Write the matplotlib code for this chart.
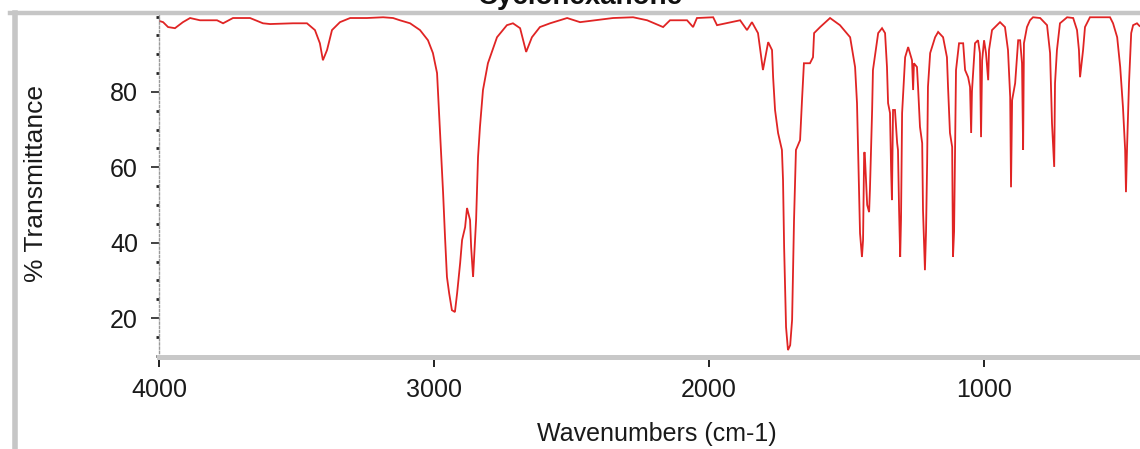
import matplotlib
matplotlib.use('Agg')
import matplotlib.pyplot as plt
from matplotlib.ticker import MultipleLocator, FixedLocator
from matplotlib.lines import Line2D

plt.rcParams['font.family'] = ['Liberation Sans', 'DejaVu Sans']

# ---- data ----
wavenumbers = [
    3998, 3985, 3967, 3942, 3913, 3887, 3851, 3789, 3767, 3731, 3669, 3622, 3596,
    3513, 3462, 3433, 3415, 3404, 3389, 3371, 3342, 3305, 3244, 3185, 3149, 3124,
    3087, 3051, 3022, 3004, 2989, 2978, 2967, 2960, 2953, 2945, 2935, 2924, 2916,
    2905, 2898, 2887, 2880, 2869, 2865, 2858, 2847, 2840, 2833, 2822, 2804, 2771,
    2735, 2713, 2687, 2665, 2644, 2615, 2578, 2516, 2469, 2349, 2276, 2225, 2167,
    2142, 2080, 2058, 2044, 1985, 1971, 1887, 1862, 1844, 1822, 1804, 1785, 1771,
    1767, 1760, 1749, 1735, 1731, 1727, 1720, 1713, 1705, 1698, 1691, 1684, 1669,
    1662, 1655, 1633, 1622, 1618, 1596, 1560, 1524, 1487, 1469, 1462, 1458, 1451,
    1444, 1440, 1436, 1434, 1425, 1418, 1415, 1407, 1404, 1385, 1371, 1360, 1353,
    1349, 1342, 1338, 1335, 1331, 1324, 1316, 1313, 1309, 1305, 1302, 1298, 1287,
    1276, 1262, 1258, 1255, 1244, 1240, 1233, 1225, 1222, 1215, 1211, 1207, 1204,
    1196, 1178, 1167, 1149, 1135, 1131, 1124, 1116, 1113, 1109, 1102, 1091, 1076,
    1069, 1058, 1051, 1047, 1044, 1033, 1022, 1015, 1011, 1007, 1000, 993, 985,
    982, 971, 942, 924, 913, 905, 902, 898, 887, 876, 869, 862, 858, 855, 844,
    833, 822, 796, 771, 760, 753, 745, 742, 735, 724, 698, 676, 662, 655, 651,
    640, 633, 615, 542, 531, 516, 505, 495, 487, 484, 480, 473, 465, 458, 444, 435,
]
transmittance = [
    98.8, 98.5, 97.2, 96.9, 98.5, 99.6, 99.0, 99.0, 98.2, 99.6, 99.6, 98.2, 98.0,
    98.2, 98.2, 96.4, 92.9, 88.4, 91.1, 96.4, 98.5, 99.6, 99.6, 99.8, 99.6, 99.0,
    98.2, 96.4, 93.7, 90.3, 85.0, 69.1, 53.2, 41.5, 30.9, 26.6, 22.1, 21.6, 26.6,
    34.6, 40.7, 44.1, 49.2, 46.0, 38.8, 30.9, 46.0, 62.7, 70.7, 80.5, 87.6, 94.5,
    97.7, 98.2, 96.9, 90.6, 94.5, 97.2, 98.2, 99.6, 98.5, 99.6, 99.8, 99.0, 97.2,
    99.0, 99.0, 97.2, 99.6, 99.8, 97.7, 99.0, 96.4, 98.5, 95.6, 85.8, 93.2, 91.1,
    83.9, 75.2, 69.1, 64.6, 56.6, 38.8, 17.6, 11.5, 12.8, 19.5, 46.0, 64.6, 67.2,
    77.8, 87.6, 87.6, 89.2, 95.6, 97.2, 99.6, 97.7, 94.5, 86.6, 77.0, 64.6, 42.5,
    36.2, 40.7, 63.8, 64.0, 50.0, 48.1, 54.0, 75.2, 85.8, 95.6, 96.9, 95.6, 86.6,
    77.0, 74.4, 59.3, 51.3, 75.2, 75.2, 66.4, 64.6, 48.6, 36.2, 46.0, 74.4, 89.2,
    91.9, 88.4, 80.5, 87.6, 86.6, 81.3, 70.7, 66.4, 48.6, 32.7, 43.0, 61.1, 81.3,
    90.3, 94.5, 95.9, 94.5, 89.2, 81.3, 69.1, 65.4, 36.2, 43.0, 85.8, 92.9, 92.9,
    85.8, 83.9, 81.3, 69.1, 80.2, 92.9, 93.7, 90.3, 68.0, 88.4, 93.7, 90.3, 83.1,
    91.1, 96.4, 98.5, 97.2, 91.1, 78.6, 54.7, 77.8, 82.3, 93.7, 93.7, 87.6, 64.6, 92.9, 97.2,
    99.0, 99.8, 99.6, 97.7, 90.3, 71.7, 60.1, 82.3, 91.1, 98.2, 99.8, 99.6, 96.4, 91.1, 83.9,
    91.1, 97.2, 99.8, 99.8, 98.2, 94.5, 86.6, 76.0, 64.6, 53.4, 65.4, 82.3, 95.6, 97.7, 98.2, 97.5,
]
x_major_ticks = [4000, 3000, 2000, 1000]
x_tick_labels = ['4000', '3000', '2000', '1000']
y_major_ticks = [20, 40, 60, 80]
y_tick_labels = ['20', '40', '60', '80']
title_text = 'Cyclohexanone'
x_label_text = 'Wavenumbers (cm-1)'
y_label_text = '% Transmittance'

W, H = 1140, 449
fig = plt.figure(figsize=(W / 100, H / 100), dpi=100)
fig.patch.set_facecolor('white')

ax_left, ax_top, ax_bottom = 159, 15, 356.5
ax = fig.add_axes([ax_left / W, 1 - ax_bottom / H, (W - ax_left) / W, (ax_bottom - ax_top) / H])

ax.plot(wavenumbers, transmittance, color='#e02424', lw=1.3, solid_joinstyle='miter')

ax.set_xlim(4000, 433)
ax.set_ylim(9.8, 100.4)

ax.xaxis.set_major_locator(FixedLocator(x_major_ticks))
ax.set_xticklabels(x_tick_labels)
ax.xaxis.set_minor_locator(MultipleLocator(200))
ax.yaxis.set_major_locator(FixedLocator(y_major_ticks))
ax.set_yticklabels(y_tick_labels)
ax.yaxis.set_minor_locator(MultipleLocator(5))

tick_col = '#222222'
ax.tick_params(axis='x', which='major', direction='out', length=7, width=1.4,
               color=tick_col, pad=8.6, labelsize=18, labelcolor='#1a1a1a')
ax.tick_params(axis='x', which='minor', direction='inout', length=3.6, width=1.6, color=tick_col)
ax.tick_params(axis='y', which='major', direction='out', length=5.8, width=1.2,
               color=tick_col, pad=9.4, labelsize=18, labelcolor='#1a1a1a')
ax.tick_params(axis='y', which='minor', direction='out', length=2.0, width=2.0, color=tick_col)

for s in ('top', 'right'):
    ax.spines[s].set_visible(False)
ax.spines['bottom'].set_color('#c8c8c8')
ax.spines['bottom'].set_linewidth(3.6)
ax.spines['left'].set_color('#9a9a9a')
ax.spines['left'].set_linewidth(1.0)
ax.spines['left'].set_linestyle((0, (1.5, 1.5)))

# outer frame (partially visible in the crop)
fig.add_artist(Line2D([10 / W, 1], [1 - 12.5 / H, 1 - 12.5 / H], color='#c6c6c6', lw=3.2, zorder=10))
fig.add_artist(Line2D([14.5 / W, 14.5 / W], [0, 1 - 12.5 / H], color='#c6c6c6', lw=4.0, zorder=10))

fig.text(580 / W, 1 - 4.5 / H, title_text, ha='center', va='baseline',
         fontsize=20, fontweight='bold', color='#111111')
fig.text(657 / W, 1 - 434 / H, x_label_text, ha='center', va='center',
         fontsize=18, color='#1a1a1a')
fig.text(36 / W, 1 - 184 / H, y_label_text, ha='center', va='center', rotation=90,
         fontsize=19, color='#1a1a1a')

fig.savefig('out.png', dpi=100, facecolor='white')
